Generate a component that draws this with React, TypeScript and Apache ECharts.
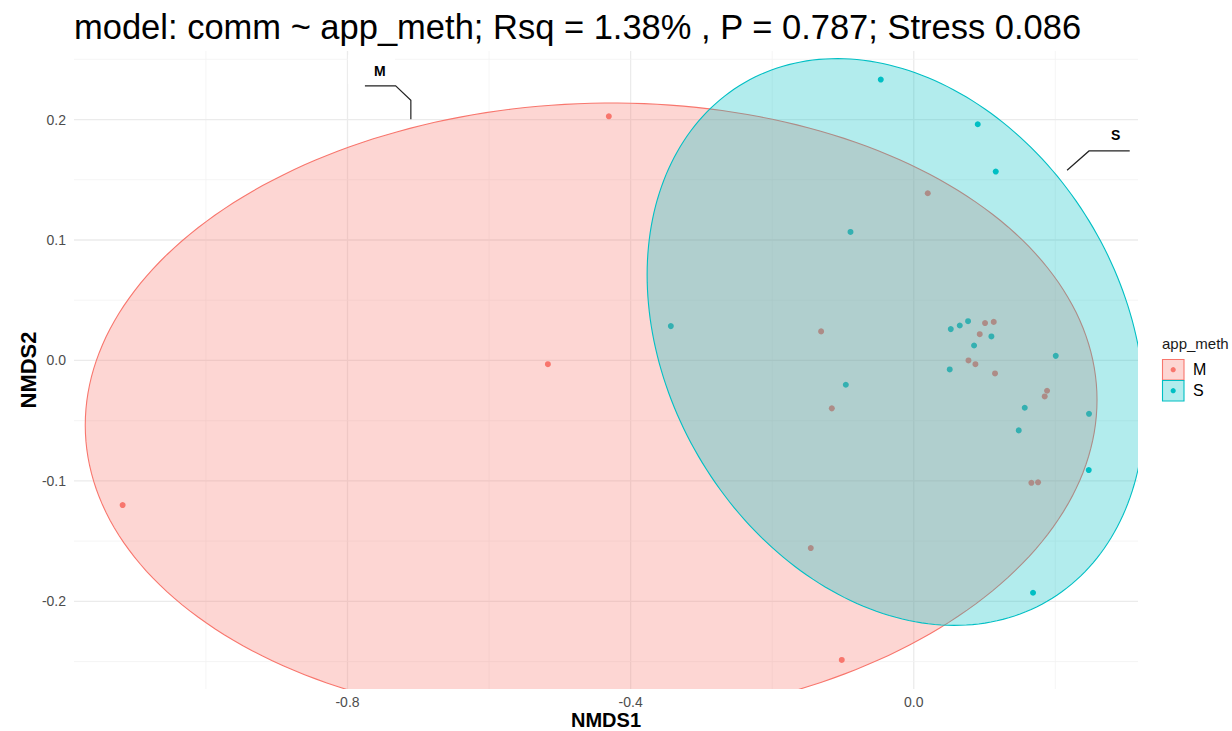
import React, { useEffect, useRef } from "react";
import * as echarts from "echarts";

// ---------------- data ----------------
const titleText = "model: comm ~ app_meth; Rsq = 1.38% , P = 0.787; Stress 0.086";
const groupNames = ["M", "S"];
const groupColors = ["#F8766D", "#00BFC4"];
const groupFills = ["rgba(248,118,109,0.3)", "rgba(0,191,196,0.3)"];

const nmds1M = [-0.4308, -0.5169, -1.1177, -0.1017, 0.0198, -0.1309, -0.1158, -0.1455, 0.1007, 0.113, 0.0932, 0.0773, 0.0871, 0.1148, 0.1883, 0.185, 0.1662, 0.1756];
const nmds2M = [0.2027, -0.0031, -0.1201, -0.2487, 0.1388, 0.0241, -0.0398, -0.1558, 0.031, 0.032, 0.0218, 0.0, -0.0031, -0.0108, -0.0252, -0.0299, -0.1016, -0.1012];
const nmds1S = [-0.0466, 0.0904, 0.1158, -0.0894, -0.3432, 0.0523, 0.065, 0.0767, 0.0852, 0.1097, 0.0508, 0.2006, -0.096, 0.1568, 0.1483, 0.2476, 0.2472, 0.1685];
const nmds2S = [0.2332, 0.1961, 0.1568, 0.1067, 0.0285, 0.026, 0.029, 0.0326, 0.0124, 0.0199, -0.0075, 0.0038, -0.0202, -0.0393, -0.0581, -0.0443, -0.091, -0.1929];

// 95% ellipses: centre and two conjugate semi-diameters (data units)
const ellipseCenter = [[-0.4558, -0.0433], [-0.0254, 0.0153]];
const ellipseAxisU = [[0.7147, 0.0105], [0.3513, -0.0557]];
const ellipseAxisV = [[0, 0.2568], [0, 0.2286]];

const xRange = [-1.1864, 0.3168];
const yRange = [-0.2728, 0.2569];
const xMajorBreaks = [-0.8, -0.4, 0.0];
const xMinorBreaks = [-1.0, -0.6, -0.2, 0.2];
const yMajorBreaks = [-0.2, -0.1, 0.0, 0.1, 0.2];
const yMinorBreaks = [-0.25, -0.15, -0.05, 0.05, 0.15, 0.25];

// group labels with leader lines (data units)
const labelPos = [[-0.7542, 0.2403], [0.2853, 0.187]];
const leaderM = [[-0.7754, 0.2279], [-0.732, 0.2279], [-0.7105, 0.216], [-0.7105, 0.2002]];
const leaderS = [[0.3051, 0.1739], [0.2476, 0.1739], [0.2166, 0.1579]];
const leaders = [leaderM, leaderS];

const FONT = "'Liberation Sans', Arial, Helvetica, sans-serif";

export default function App() {
  const ref = useRef<HTMLDivElement>(null);

  useEffect(() => {
    document.body.style.margin = "0";
    const chart = echarts.init(ref.current!, null, { renderer: "svg" });

    // grid line rows: [value, kind] kind 0 = x major, 1 = x minor, 2 = y major, 3 = y minor
    const gridRows: number[][] = [];
    xMajorBreaks.forEach((v) => gridRows.push([v, 0]));
    xMinorBreaks.forEach((v) => gridRows.push([v, 1]));
    yMajorBreaks.forEach((v) => gridRows.push([v, 2]));
    yMinorBreaks.forEach((v) => gridRows.push([v, 3]));

    const gridSeries = {
      type: "custom",
      name: "gridlines",
      z: 0,
      silent: true,
      clip: false,
      data: gridRows,
      encode: { x: 0 },
      renderItem: (params: any, api: any) => {
        const row = gridRows[params.dataIndex];
        const cs = params.coordSys;
        const major = row[1] === 0 || row[1] === 2;
        const style = { stroke: major ? "#EBEBEB" : "#F3F3F3", lineWidth: major ? 1.3 : 0.8 };
        if (row[1] < 2) {
          const px = api.coord([row[0], yRange[0]])[0];
          return { type: "line", shape: { x1: px, y1: cs.y, x2: px, y2: cs.y + cs.height }, style };
        }
        const py = api.coord([xRange[0], row[0]])[1];
        return { type: "line", shape: { x1: cs.x, y1: py, x2: cs.x + cs.width, y2: py }, style };
      },
    };

    const ellipseSeries = groupNames.map((g, gi) => ({
      type: "custom",
      name: g + " ellipse",
      z: 3 + gi,
      clip: true,
      silent: true,
      data: [ellipseCenter[gi]],
      encode: { x: 0, y: 1 },
      renderItem: (params: any, api: any) => {
        const c = ellipseCenter[gi];
        const u = ellipseAxisU[gi];
        const v = ellipseAxisV[gi];
        const pts: number[][] = [];
        const n = 240;
        for (let k = 0; k < n; k++) {
          const t = (2 * Math.PI * k) / n;
          pts.push(api.coord([c[0] + u[0] * Math.cos(t) + v[0] * Math.sin(t), c[1] + u[1] * Math.cos(t) + v[1] * Math.sin(t)]));
        }
        return {
          type: "polygon",
          shape: { points: pts },
          style: { fill: groupFills[gi], stroke: groupColors[gi], lineWidth: 1.1 },
        };
      },
    }));

    const labelSeries = {
      type: "custom",
      name: "labels",
      z: 10,
      clip: false,
      silent: true,
      data: labelPos.map((p, i) => [p[0], p[1], i]),
      encode: { x: 0, y: 1 },
      renderItem: (params: any, api: any) => {
        const i = params.dataIndex;
        const p = api.coord([labelPos[i][0], labelPos[i][1]]);
        const lpts = leaders[i].map((q) => api.coord(q));
        const children: any[] = [];
        if (i === 0) {
          children.push({ type: "rect", shape: { x: p[0] - 32, y: p[1] - 16, width: 47, height: 29 }, style: { fill: "#FFFFFF" } });
        }
        children.push({ type: "polyline", shape: { points: lpts }, style: { stroke: "#222222", lineWidth: 1.2, fill: null } });
        children.push({
          type: "text",
          x: p[0],
          y: p[1],
          style: { text: groupNames[i], fill: "#000000", font: `bold 14px ${FONT}`, align: "center", verticalAlign: "middle" },
        });
        return { type: "group", children };
      },
    };

    const legendGraphic: any[] = [
      { type: "text", left: 1162, top: 336, style: { text: "app_meth", fill: "#1A1A1A", font: `15px ${FONT}` } },
    ];
    groupNames.forEach((g, gi) => {
      const y0 = 359.5 + gi * 21;
      legendGraphic.push({ type: "rect", shape: { x: 1162.5, y: y0, width: 21.5, height: 20.5 }, style: { fill: groupFills[gi], stroke: groupColors[gi], lineWidth: 1.1 } });
      legendGraphic.push({ type: "circle", shape: { cx: 1173.2, cy: y0 + 10.2, r: 2.6 }, style: { fill: groupColors[gi] } });
      legendGraphic.push({ type: "text", x: 1193, y: y0 + 10, style: { text: g, fill: "#000000", font: `16px ${FONT}`, verticalAlign: "middle" } });
    });

    const option: any = {
      animation: false,
      backgroundColor: "#FFFFFF",
      title: {
        text: titleText,
        left: 69,
        top: 4,
        textStyle: { fontFamily: FONT, fontSize: 34.5, fontWeight: "normal", color: "#000000" },
      },
      grid: { left: 74, right: 94, top: 51, bottom: 42, containLabel: false, outerBoundsMode: "none" },
      xAxis: {
        type: "value",
        min: xRange[0],
        max: xRange[1],
        name: "NMDS1",
        nameLocation: "middle",
        nameGap: 31,
        nameMoveOverlap: false,
        nameTextStyle: { fontFamily: FONT, fontSize: 20, fontWeight: "bold", color: "#000000", verticalAlign: "middle" },
        axisLine: { show: false },
        axisTick: { show: false },
        splitLine: { show: false },
        axisLabel: {
          customValues: xMajorBreaks,
          margin: 6,
          fontFamily: FONT,
          fontSize: 14,
          color: "#4D4D4D",
          formatter: (v: number) => v.toFixed(1),
        },
      },
      yAxis: {
        type: "value",
        min: yRange[0],
        max: yRange[1],
        name: "NMDS2",
        nameLocation: "middle",
        nameRotate: 90,
        nameGap: 46,
        nameMoveOverlap: false,
        nameTextStyle: { fontFamily: FONT, fontSize: 22, fontWeight: "bold", color: "#000000", verticalAlign: "middle" },
        axisLine: { show: false },
        axisTick: { show: false },
        splitLine: { show: false },
        axisLabel: {
          customValues: yMajorBreaks,
          margin: 8,
          fontFamily: FONT,
          fontSize: 14,
          color: "#4D4D4D",
          formatter: (v: number) => v.toFixed(1),
        },
      },
      graphic: legendGraphic,
      series: [
        gridSeries,
        {
          type: "scatter",
          name: "M",
          z: 2,
          symbolSize: 6,
          itemStyle: { color: groupColors[0], opacity: 1 },
          data: nmds1M.map((x, i) => [x, nmds2M[i]]),
        },
        {
          type: "scatter",
          name: "S",
          z: 2,
          symbolSize: 6,
          itemStyle: { color: groupColors[1], opacity: 1 },
          data: nmds1S.map((x, i) => [x, nmds2S[i]]),
        },
        ...ellipseSeries,
        labelSeries,
      ],
    };

    chart.setOption(option);
    return () => chart.dispose();
  }, []);

  return <div ref={ref} style={{ position: "fixed", left: 0, top: 0, width: 1232, height: 731 }} />;
}
